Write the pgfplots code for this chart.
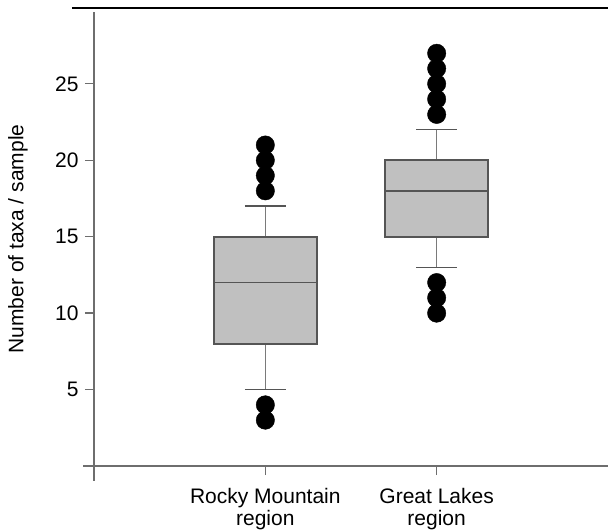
\documentclass[border=0pt]{standalone}
\usepackage{fontspec}
\setmainfont{Liberation Sans}
\usepackage{pgfplots}
\pgfplotsset{compat=1.18}
\definecolor{axiscol}{HTML}{6E6E6E}
\definecolor{boxfill}{HTML}{C0C0C0}
\definecolor{boxdraw}{HTML}{555555}
\definecolor{whiskcol}{HTML}{7A7A7A}
\begin{document}
\begin{tikzpicture}
\begin{axis}[
  name=ax,
  scale only axis,
  width=514pt, height=454pt,
  xmin=0, xmax=3, ymin=0, ymax=29.7,
  axis lines=left,
  axis line style={axiscol, line width=1.6pt, -},
  clip=false,
  font=\fontsize{21}{22}\selectfont,
  /pgf/number format/assume math mode=true,
  ytick={5,10,15,20,25},
  xtick={0,1,2},
  xticklabels={,{Rocky Mountain\\region},{Great Lakes\\region}},
  xticklabel style={align=center, yshift=-10pt},
  yticklabel style={xshift=-3pt},
  tick style={axiscol, line width=1.3pt},
  tick align=outside,
  major tick length=9pt,
  ylabel={Number of taxa / sample},
  ylabel style={at={(axis description cs:-0.148,0.5)}, anchor=center},
]
% Rocky Mountain: whiskers 5-17, box 8-15, median 12
\addplot[whiskcol, line width=1.5pt] coordinates {(1,15) (1,17)};
\addplot[whiskcol, line width=1.5pt] coordinates {(1,8) (1,5)};
\addplot[boxdraw, line width=1.4pt] coordinates {(0.88,17) (1.12,17)};
\addplot[boxdraw, line width=1.4pt] coordinates {(0.88,5) (1.12,5)};
\addplot[draw=boxdraw, fill=boxfill, line width=1.6pt] coordinates {(0.7,8) (1.3,8) (1.3,15) (0.7,15) (0.7,8)} -- cycle;
\addplot[boxdraw, line width=1.6pt] coordinates {(0.7,12) (1.3,12)};
\addplot[only marks, mark=*, mark size=9.2pt, black] coordinates {(1,18) (1,19) (1,20) (1,21) (1,3) (1,4)};
% Great Lakes: whiskers 13-22, box 15-20, median 18
\addplot[whiskcol, line width=1.5pt] coordinates {(2,20) (2,22)};
\addplot[whiskcol, line width=1.5pt] coordinates {(2,15) (2,13)};
\addplot[boxdraw, line width=1.4pt] coordinates {(1.88,22) (2.12,22)};
\addplot[boxdraw, line width=1.4pt] coordinates {(1.88,13) (2.12,13)};
\addplot[draw=boxdraw, fill=boxfill, line width=1.6pt] coordinates {(1.7,15) (2.3,15) (2.3,20) (1.7,20) (1.7,15)} -- cycle;
\addplot[boxdraw, line width=1.6pt] coordinates {(1.7,18) (2.3,18)};
\addplot[only marks, mark=*, mark size=9.2pt, black] coordinates {(2,23) (2,24) (2,25) (2,26) (2,27) (2,10) (2,11) (2,12)};
\draw[axiscol, line width=1.6pt] (axis cs:0,0) -- ++(-11pt,0);
\draw[axiscol, line width=1.3pt] (axis cs:0,0) -- ++(0,-15pt);
\draw[black, line width=2pt] ([xshift=-22pt]axis cs:0,29.95) -- (axis cs:3,29.95);
\end{axis}
\pgfresetboundingbox
\path (ax.south west) ++(-94pt,-65pt) rectangle ++(608pt,531pt);
\end{tikzpicture}
\end{document}
